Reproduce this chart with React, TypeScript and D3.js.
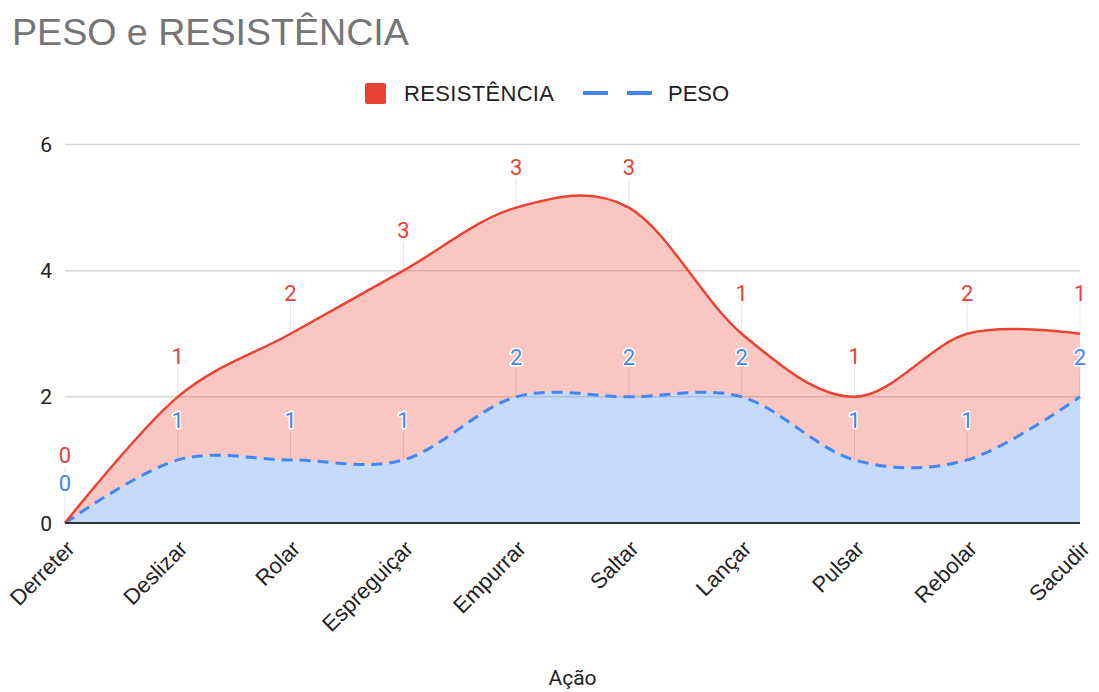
import React from "react";
import * as d3 from "d3";

// dados (área empilhada: PESO embaixo, RESISTÊNCIA em cima)
const acoes = ["Derreter", "Deslizar", "Rolar", "Espreguiçar", "Empurrar", "Saltar", "Lançar", "Pulsar", "Rebolar", "Sacudir"];
const peso = [0, 1, 1, 1, 2, 2, 2, 1, 1, 2];
const resistencia = [0, 1, 2, 3, 3, 3, 1, 1, 2, 1];
const yTicks = [0, 2, 4, 6];

const W = 1099;
const H = 692;
const RED = "#ea4335";
const BLUE = "#4285f4";
const NUM_FONT = "Roboto, 'Liberation Sans', Arial, sans-serif";
const TXT_FONT = "'Liberation Sans', Arial, sans-serif";

type Row = { a: string; p: number; r: number; t: number };

export default function App() {
  const rows: Row[] = acoes.map((a, i) => ({ a, p: peso[i], r: resistencia[i], t: peso[i] + resistencia[i] }));

  const x = d3.scalePoint<string>().domain(acoes).range([65, 1080]);
  const y = d3.scaleLinear().domain([0, 6]).range([523, 144.5]);
  const curve = d3.curveCardinal.tension(0);

  const blueArea = d3.area<Row>().x(d => x(d.a)!).y0(y(0)).y1(d => y(d.p)).curve(curve);
  const redArea = d3.area<Row>().x(d => x(d.a)!).y0(d => y(d.p)).y1(d => y(d.t)).curve(curve);
  const blueLine = d3.line<Row>().x(d => x(d.a)!).y(d => y(d.p)).curve(curve);
  const redLine = d3.line<Row>().x(d => x(d.a)!).y(d => y(d.t)).curve(curve);

  // posição dos rótulos, empurrando o vermelho para cima se colidir
  const labels = rows.map(d => {
    const blueBase = y(d.p) - 32;
    const redBase = Math.min(y(d.t) - 33, blueBase - 28);
    return { ...d, blueBase, redBase };
  });

  const [x0, x1] = x.range();

  return (
    <svg width={W} height={H} style={{ position: "absolute", left: 0, top: 0, background: "#fff" }}>
      <text x={12} y={45} fontFamily={TXT_FONT} fontSize={37.6} fill="#757575">PESO e RESISTÊNCIA</text>

      {/* legenda */}
      <rect x={365} y={83} width={21} height={21} rx={2} fill={RED} />
      <text x={404} y={101} fontFamily={TXT_FONT} fontSize={22} fill="#222" textLength={150}>RESISTÊNCIA</text>
      <line x1={583} x2={652} y1={93} y2={93} stroke={BLUE} strokeWidth={4} strokeDasharray="25,19" />
      <text x={668} y={101} fontFamily={TXT_FONT} fontSize={22} fill="#222">PESO</text>

      {/* grade */}
      {yTicks.map(t => (
        <g key={t}>
          {t > 0 && <line x1={x0} x2={x1} y1={y(t)} y2={y(t)} stroke="#d6d6d6" strokeWidth={1.5} />}
          <text x={52} y={y(t)} dy="0.36em" textAnchor="end" fontFamily={NUM_FONT} fontSize={21} fill="#222">{t}</text>
        </g>
      ))}

      <path d={redArea(rows)!} fill={RED} fillOpacity={0.3} />
      <path d={blueArea(rows)!} fill={BLUE} fillOpacity={0.3} />

      {/* linhas guia dos rótulos */}
      {labels.map(d => (
        <g key={"g" + d.a} stroke="#000" strokeOpacity={0.1} strokeWidth={1}>
          <line x1={x(d.a)} x2={x(d.a)} y1={y(d.p)} y2={d.blueBase + 4} />
          <line x1={x(d.a)} x2={x(d.a)} y1={Math.min(y(d.t), d.blueBase - 18)} y2={d.redBase + 4} />
        </g>
      ))}

      <path d={blueLine(rows)!} fill="none" stroke={BLUE} strokeWidth={3} strokeDasharray="11,7" />
      <path d={redLine(rows)!} fill="none" stroke={RED} strokeWidth={2.5} />

      <line x1={x0} x2={x1} y1={y(0)} y2={y(0)} stroke="#333" strokeWidth={2} />

      {/* rótulos de dados */}
      {labels.map(d => (
        <g key={"l" + d.a} fontFamily={NUM_FONT} fontSize={22} textAnchor="middle"
          stroke="#fff" strokeWidth={3} strokeLinejoin="round" style={{ paintOrder: "stroke" }}>
          <text x={x(d.a)} y={d.redBase} fill={RED}>{d.r}</text>
          <text x={x(d.a)} y={d.blueBase} fill={BLUE}>{d.p}</text>
        </g>
      ))}

      {/* eixo x */}
      {acoes.map(a => (
        <text key={a} transform={`translate(${x(a)! + 11},550) rotate(-45)`} textAnchor="end"
          fontFamily={TXT_FONT} fontSize={22} fill="#222">{a}</text>
      ))}
      <text x={(x0 + x1) / 2} y={685} textAnchor="middle" fontFamily={NUM_FONT} fontSize={21} fill="#222">Ação</text>
    </svg>
  );
}
